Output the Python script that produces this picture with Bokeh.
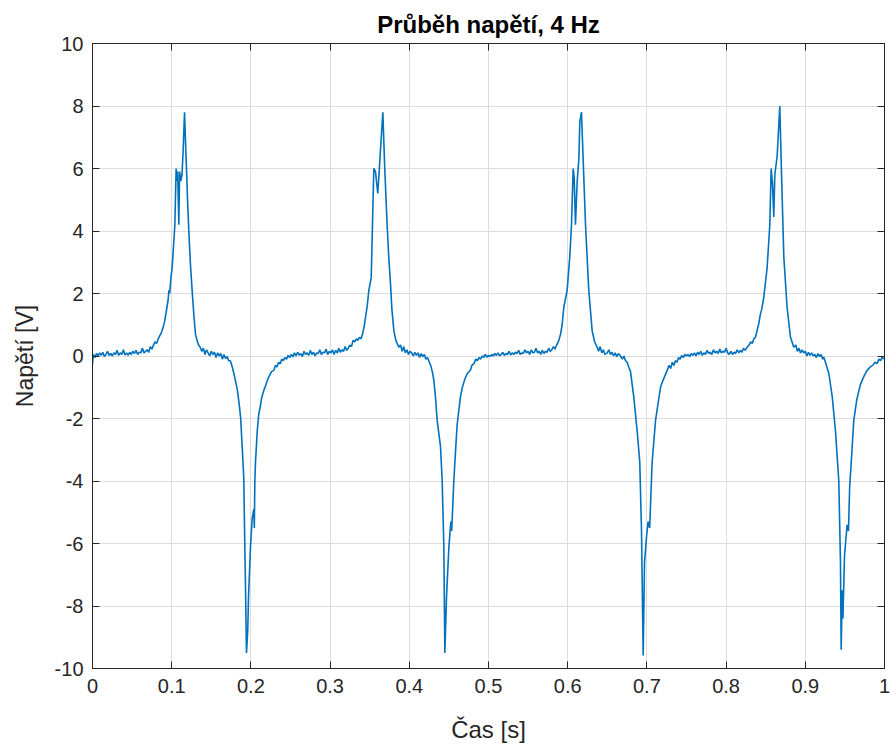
from bokeh.plotting import figure
from bokeh.models import LinearAxis, FixedTicker, Range1d
from bokeh.embed import file_html
from bokeh.resources import INLINE

# ---- data (time in s, voltage in V) ----
t_p1 = [0.000, 0.001, 0.003, 0.005, 0.007, 0.009, 0.011, 0.013, 0.015, 0.017, 0.019, 0.021, 0.023, 0.025,
        0.027, 0.029, 0.031, 0.033, 0.035, 0.037, 0.039, 0.041, 0.043, 0.045, 0.047, 0.049, 0.051, 0.053,
        0.055, 0.057, 0.059, 0.061, 0.063, 0.065, 0.067, 0.069, 0.071, 0.073, 0.075, 0.077, 0.079, 0.081,
        0.083, 0.085, 0.087, 0.089, 0.091, 0.093, 0.0955, 0.0965, 0.0975, 0.099, 0.1006, 0.102, 0.104,
        0.1056, 0.1065, 0.1075, 0.109, 0.110, 0.1115, 0.113, 0.1145, 0.1162, 0.1175, 0.1187, 0.120, 0.1216,
        0.1235, 0.1258, 0.128, 0.130, 0.132, 0.134, 0.136, 0.138, 0.140, 0.142, 0.144, 0.146, 0.148, 0.150,
        0.152, 0.154, 0.156, 0.158, 0.160, 0.162, 0.164, 0.166, 0.168, 0.170, 0.172, 0.174, 0.1765, 0.1785,
        0.181, 0.183, 0.185, 0.187, 0.189, 0.191, 0.192, 0.1932, 0.1944, 0.196, 0.197, 0.1995, 0.2016,
        0.2037, 0.2043, 0.205, 0.2058, 0.208, 0.210, 0.212, 0.2135, 0.2163, 0.2185, 0.2205, 0.223, 0.226,
        0.229, 0.231, 0.233, 0.235, 0.237, 0.239, 0.241, 0.243, 0.245, 0.247, 0.249]
v_p1 = [-0.25, 0.05, -0.05, 0.08, 0.0, 0.1, 0.02, 0.12, -0.02, 0.05, 0.15, 0.02, 0.08, 0.0,
        0.1, 0.05, 0.18, 0.02, 0.1, 0.05, 0.2, 0.03, 0.1, 0.02, 0.12, 0.05, 0.15, 0.08,
        0.18, 0.05, 0.12, 0.1, 0.25, 0.1, 0.15, 0.2, 0.12, 0.3, 0.22, 0.35, 0.45, 0.4,
        0.55, 0.65, 0.75, 0.9, 1.1, 1.4, 1.8, 2.1, 2.0, 2.5, 2.83, 3.4, 4.2,
        6.0, 5.6, 5.9, 4.2, 5.9, 5.6, 5.8, 6.6, 7.8, 6.8, 6.0, 5.0, 4.0,
        3.0, 2.1, 1.3, 0.7, 0.5, 0.35, 0.28, 0.15, 0.25, 0.05, 0.2, 0.1, 0.0, 0.15,
        0.05, 0.12, -0.05, 0.1, 0.0, 0.08, -0.1, 0.05, -0.08, -0.02, -0.15, -0.15, -0.35, -0.56,
        -0.85, -1.1, -1.5, -1.96, -2.9, -3.9, -5.6, -7.4, -9.5, -8.8, -7.7, -6.1, -5.2,
        -4.9, -5.5, -4.0, -3.4, -2.4, -1.85, -1.6, -1.35, -1.1, -0.95, -0.8, -0.65, -0.5,
        -0.46, -0.3, -0.35, -0.2, -0.25, -0.1, -0.15, -0.05, -0.1, 0.02, -0.05]

t_p2 = [0.251, 0.253, 0.255, 0.257, 0.259, 0.261, 0.263, 0.265, 0.267, 0.269, 0.271, 0.273, 0.275, 0.277,
        0.279, 0.281, 0.283, 0.285, 0.287, 0.289, 0.291, 0.293, 0.295, 0.297, 0.299, 0.301, 0.303, 0.305,
        0.307, 0.309, 0.311, 0.313, 0.315, 0.317, 0.319, 0.321, 0.323, 0.325, 0.327, 0.329, 0.331, 0.333,
        0.335, 0.337, 0.339, 0.341, 0.343, 0.3447, 0.3469, 0.3489, 0.3519, 0.3535, 0.3552, 0.3573, 0.3602,
        0.362, 0.3636, 0.3666, 0.3678, 0.369, 0.372, 0.374, 0.3763, 0.378, 0.3805, 0.383, 0.3868, 0.389,
        0.391, 0.393, 0.395, 0.397, 0.399, 0.401, 0.403, 0.405, 0.407, 0.409, 0.411, 0.413, 0.415, 0.417,
        0.419, 0.421, 0.423, 0.4246, 0.427, 0.429, 0.431, 0.433, 0.4352, 0.4394, 0.4415, 0.4436, 0.4449,
        0.447, 0.450, 0.4525, 0.4535, 0.4542, 0.4562, 0.4585, 0.4604, 0.4646, 0.467, 0.470, 0.473, 0.4773,
        0.479, 0.4814, 0.484, 0.486, 0.488, 0.490, 0.492, 0.494, 0.496, 0.498]
v_p2 = [0.05, -0.03, 0.1, 0.0, 0.12, 0.03, 0.08, -0.02, 0.15, 0.05, 0.1, 0.02, 0.18, 0.05,
        0.12, 0.0, 0.1, 0.08, 0.2, 0.05, 0.12, 0.1, 0.22, 0.05, 0.15, 0.1, 0.2, 0.05,
        0.18, 0.1, 0.25, 0.12, 0.2, 0.15, 0.3, 0.18, 0.25, 0.35, 0.3, 0.5, 0.45, 0.55,
        0.5, 0.6, 0.55, 0.7, 0.95, 1.24, 1.6, 2.1, 2.5, 4.2, 6.0, 5.9, 5.2,
        5.9, 6.6, 7.8, 6.9, 6.0, 4.2, 3.2, 2.3, 1.5, 0.82, 0.5, 0.28, 0.35,
        0.15, 0.3, 0.1, 0.2, 0.05, 0.15, 0.1, 0.0, 0.12, 0.02, 0.1, -0.05, 0.08, -0.02,
        0.05, -0.1, -0.05, -0.15, -0.3, -0.5, -0.78, -1.3, -2.06, -2.9, -3.98, -6.1, -9.5,
        -7.7, -6.1, -5.3, -5.6, -5.2, -4.0, -3.0, -2.2, -1.3, -1.0, -0.75, -0.57, -0.45,
        -0.3, -0.25, -0.1, -0.15, -0.05, -0.1, 0.0, -0.04, 0.05, -0.04]

t_p3 = [0.500, 0.502, 0.504, 0.506, 0.508, 0.510, 0.512, 0.514, 0.516, 0.518, 0.520, 0.522, 0.524, 0.526,
        0.528, 0.530, 0.532, 0.534, 0.536, 0.538, 0.540, 0.542, 0.544, 0.546, 0.548, 0.550, 0.552, 0.554,
        0.556, 0.558, 0.560, 0.562, 0.564, 0.566, 0.568, 0.570, 0.572, 0.574, 0.576, 0.578, 0.580, 0.582,
        0.584, 0.586, 0.5888, 0.591, 0.593, 0.5951, 0.5993, 0.6027, 0.6048, 0.6069, 0.6082, 0.6098, 0.612,
        0.6141, 0.6153, 0.6174, 0.6195, 0.6225, 0.6266, 0.6309, 0.634, 0.6372, 0.639, 0.641, 0.643, 0.645,
        0.647, 0.650, 0.652, 0.654, 0.656, 0.658, 0.660, 0.662, 0.664, 0.6667, 0.669, 0.671, 0.673, 0.675,
        0.6772, 0.6793, 0.6834, 0.6877, 0.691, 0.6932, 0.6953, 0.697, 0.6995, 0.7015, 0.7035, 0.7066,
        0.7109, 0.7172, 0.720, 0.7256, 0.728, 0.730, 0.732, 0.734, 0.736, 0.738, 0.740, 0.742, 0.744,
        0.746, 0.748, 0.750]
v_p3 = [0.02, -0.02, 0.05, 0.0, 0.08, 0.02, 0.1, 0.0, 0.05, 0.12, 0.02, 0.08, 0.05, 0.15,
        0.03, 0.1, 0.05, 0.12, 0.08, 0.18, 0.05, 0.1, 0.08, 0.2, 0.1, 0.15, 0.05, 0.2,
        0.1, 0.12, 0.25, 0.1, 0.15, 0.05, 0.18, 0.08, 0.15, 0.12, 0.25, 0.15, 0.2, 0.3,
        0.22, 0.35, 0.5, 0.7, 1.0, 1.56, 2.1, 3.2, 4.2, 6.0, 5.7, 4.2, 5.6,
        6.3, 7.5, 7.8, 6.3, 4.2, 2.1, 0.8, 0.45, 0.28, 0.15, 0.3, 0.1, 0.2,
        0.05, 0.1, 0.2, 0.05, 0.12, 0.0, 0.1, -0.02, 0.08, 0.0, -0.1, 0.0, -0.15, -0.2,
        -0.36, -0.5, -1.3, -2.4, -3.4, -5.6, -9.58, -6.6, -5.8, -5.3, -5.5, -3.4,
        -2.06, -1.0, -0.8, -0.46, -0.3, -0.4, -0.2, -0.3, -0.15, -0.2, -0.05, -0.1, 0.02,
        -0.05, 0.05, 0.0]

t_p4 = [0.752, 0.754, 0.756, 0.758, 0.760, 0.762, 0.764, 0.766, 0.768, 0.770, 0.772, 0.774, 0.776, 0.778,
        0.780, 0.782, 0.784, 0.786, 0.788, 0.790, 0.792, 0.794, 0.796, 0.798, 0.800, 0.802, 0.804, 0.806,
        0.808, 0.810, 0.812, 0.814, 0.816, 0.818, 0.820, 0.822, 0.824, 0.8266, 0.829, 0.831, 0.833, 0.835,
        0.837, 0.839, 0.8413, 0.843, 0.845, 0.8476, 0.8518, 0.8552, 0.8569, 0.8586, 0.8602, 0.8615, 0.8645,
        0.8678, 0.870, 0.8729, 0.877, 0.8813, 0.8855, 0.888, 0.890, 0.892, 0.894, 0.896, 0.898, 0.900,
        0.902, 0.904, 0.906, 0.908, 0.910, 0.912, 0.914, 0.916, 0.918, 0.920, 0.922, 0.9234, 0.926, 0.9297,
        0.934, 0.9381, 0.9423, 0.9444, 0.9453, 0.9466, 0.9475, 0.9495, 0.9528, 0.9545, 0.956, 0.958,
        0.9612, 0.965, 0.9697, 0.974, 0.978, 0.982, 0.985, 0.988, 0.9907, 0.993, 0.995, 0.997, 0.999]
v_p4 = [0.05, -0.02, 0.08, 0.02, 0.1, 0.0, 0.12, 0.05, 0.15, 0.02, 0.1, 0.05, 0.18, 0.08,
        0.12, 0.05, 0.2, 0.1, 0.15, 0.08, 0.22, 0.1, 0.15, 0.12, 0.25, 0.1, 0.05, 0.15,
        0.05, 0.12, 0.08, 0.2, 0.1, 0.18, 0.12, 0.25, 0.18, 0.28, 0.35, 0.45, 0.4, 0.55,
        0.6, 0.8, 1.04, 1.3, 1.5, 1.88, 2.83, 4.2, 6.0, 5.5, 4.45, 5.8, 6.4,
        8.0, 5.8, 3.16, 1.56, 0.6, 0.28, 0.35, 0.15, 0.25, 0.1, 0.2, 0.1, 0.15,
        0.0, 0.12, 0.02, 0.1, 0.0, 0.05, -0.05, 0.08, -0.02, 0.05, -0.1, -0.04, -0.25, -0.56,
        -1.3, -2.4, -4.0, -6.6, -9.4, -7.5, -8.4, -6.4, -5.4, -5.6, -4.2, -3.4,
        -2.06, -1.4, -0.9, -0.65, -0.46, -0.35, -0.3, -0.2, -0.24, -0.1, -0.15, -0.04, -0.1]

time_s = t_p1 + t_p2 + t_p3 + t_p4
voltage_v = v_p1 + v_p2 + v_p3 + v_p4

x_ticks = [0, 0.1, 0.2, 0.3, 0.4, 0.5, 0.6, 0.7, 0.8, 0.9, 1]
x_tick_labels = ["0", "0.1", "0.2", "0.3", "0.4", "0.5", "0.6", "0.7", "0.8", "0.9", "1"]
y_ticks = [-10, -8, -6, -4, -2, 0, 2, 4, 6, 8, 10]
y_tick_labels = ["-10", "-8", "-6", "-4", "-2", "0", "2", "4", "6", "8", "10"]

title_text = "Průběh napětí, 4 Hz"
x_label = "Čas [s]"
y_label = "Napětí [V]"

FONT = "Liberation Sans"
AX = "#262626"
LINE = "#0072BD"

p = figure(width=890, height=753, x_range=Range1d(0, 1), y_range=Range1d(-10, 10),
           output_backend="svg", toolbar_location=None,
           min_border_left=92, min_border_right=6, min_border_top=43, min_border_bottom=85,
           x_axis_label=x_label, y_axis_label=y_label)

p.title.text = title_text
p.title.align = "center"
p.title.text_font = FONT
p.title.text_font_size = "24px"
p.title.text_font_style = "bold"
p.title.text_color = "#000000"
p.title.standoff = 12

p.line(time_s, voltage_v, line_color=LINE, line_width=1.6)

p.xaxis.ticker = FixedTicker(ticks=x_ticks)
p.yaxis.ticker = FixedTicker(ticks=y_ticks)
p.xaxis.major_label_overrides = {k: s for k, s in zip(x_ticks, x_tick_labels)}
p.yaxis.major_label_overrides = {k: s for k, s in zip(y_ticks, y_tick_labels)}

for ax in (p.xaxis[0], p.yaxis[0]):
    ax.axis_line_color = AX
    ax.major_tick_line_color = AX
    ax.major_tick_in = 7
    ax.major_tick_out = 0
    ax.minor_tick_line_color = None
    ax.major_label_text_font = FONT
    ax.major_label_text_font_size = "20px"
    ax.major_label_text_color = AX
    ax.axis_label_text_font = FONT
    ax.axis_label_text_font_style = "normal"
    ax.axis_label_text_color = AX

p.xaxis.axis_label_text_font_size = "24px"
p.yaxis.axis_label_text_font_size = "23px"
p.xaxis.major_label_standoff = 10
p.xaxis.axis_label_standoff = 20
p.yaxis.major_label_standoff = 9
p.yaxis.axis_label_standoff = 14

top_ax = LinearAxis(ticker=FixedTicker(ticks=x_ticks), major_label_text_color=None,
                    axis_line_color=AX, major_tick_line_color=AX, major_tick_in=7, major_tick_out=0,
                    minor_tick_line_color=None, major_label_standoff=0)
right_ax = LinearAxis(ticker=FixedTicker(ticks=y_ticks), major_label_text_color=None,
                      axis_line_color=AX, major_tick_line_color=AX, major_tick_in=7, major_tick_out=0,
                      minor_tick_line_color=None, major_label_standoff=0)
p.add_layout(top_ax, "above")
p.add_layout(right_ax, "right")

p.xgrid.ticker = FixedTicker(ticks=x_ticks)
p.ygrid.ticker = FixedTicker(ticks=y_ticks)
p.grid.grid_line_color = "#dcdcdc"
p.grid.grid_line_width = 1
p.outline_line_color = AX
p.background_fill_color = "white"
p.border_fill_color = "white"

open("out.html", "w").write(file_html(p, INLINE))
